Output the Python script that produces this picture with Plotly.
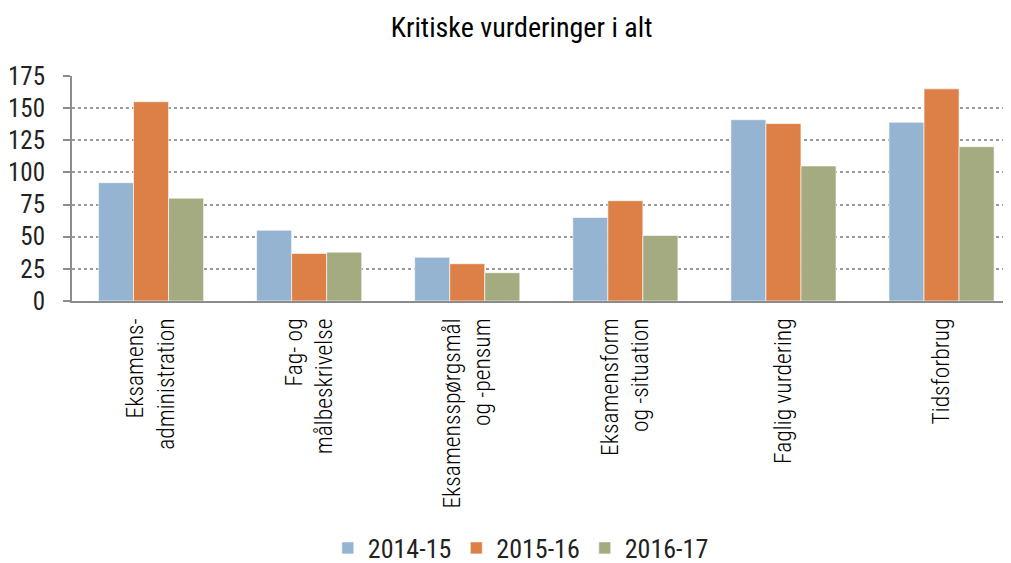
import plotly.graph_objects as go

categories = [
    "Eksamens-<br>administration",
    "Fag- og<br>målbeskrivelse",
    "Eksamensspørgsmål<br>og -pensum",
    "Eksamensform<br>og -situation",
    "Faglig vurdering",
    "Tidsforbrug",
]
series_names = ["2014-15", "2015-16", "2016-17"]
v_2014_15 = [92, 55, 34, 65, 141, 139]
v_2015_16 = [155, 37, 29, 78, 138, 165]
v_2016_17 = [80, 38, 22, 51, 105, 120]
colors = ["#94B4D1", "#DD8047", "#A5AB81"]
y_ticks = [0, 25, 50, 75, 100, 125, 150, 175]

COND = "Roboto Condensed, Liberation Sans Narrow, DejaVu Sans Condensed, Roboto"
COND_LIGHT = "Roboto Condensed Light, Roboto Condensed, Liberation Sans Narrow, Roboto"

fig = go.Figure()
for name, vals, col in zip(series_names, [v_2014_15, v_2015_16, v_2016_17], colors):
    fig.add_trace(go.Bar(
        x=categories, y=vals, name=name,
        marker=dict(color=col, line=dict(color="rgba(255,255,255,0.6)", width=1)),
    ))

# page body has an 8px margin, so the figure is offset by 8px
W, H = 1003, 555
L, R = 64, 0
CAT_PX = 158.1  # pixel width of one category slot
fig.update_layout(
    width=W, height=H,
    margin=dict(l=L, r=R, t=68, b=262, autoexpand=False),
    paper_bgcolor="white", plot_bgcolor="white",
    title=dict(text="Kritiske vurderinger i alt", x=0.512, xanchor="center",
               y=1 - 19 / H, yanchor="middle",
               font=dict(family=COND, size=28, color="#000")),
    barmode="group", bargap=0.335, bargroupgap=0,
    legend=dict(orientation="h", x=0.478, xanchor="center",
                y=-(540 - 293) / 225, yanchor="middle",
                font=dict(family=COND, size=26, color="#222"),
                itemwidth=30, traceorder="normal"),
    font=dict(family=COND),
)
fig.update_yaxes(
    range=[0, 175], tickvals=y_ticks, showgrid=True, gridcolor="#9a9a9a",
    griddash="dot", gridwidth=1.5, showline=True, linecolor="#8c8c8c", linewidth=2,
    ticks="outside", ticklen=7, tickcolor="#8c8c8c", tickwidth=2,
    ticklabelstandoff=13, automargin=False,
    tickfont=dict(family=COND, size=25, color="#222"), zeroline=False,
)
fig.update_xaxes(
    range=[-0.5, (W - L - R) / CAT_PX - 0.5],
    showline=True, linecolor="#8c8c8c", linewidth=2, ticks="", automargin=False,
    ticklabelstandoff=6,
    tickangle=-90, tickfont=dict(family=COND_LIGHT, size=23.5, color="#000"),
)
fig.write_html("out.html")
